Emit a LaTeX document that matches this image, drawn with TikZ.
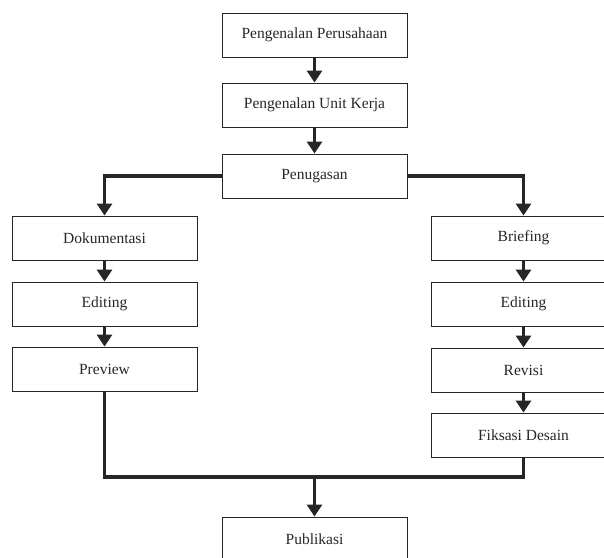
\documentclass[tikz,border=0pt]{standalone}
\usepackage{fontspec}
\setmainfont{Liberation Serif}
\usetikzlibrary{arrows.meta}
\begin{document}
\begin{tikzpicture}[x=1pt,y=-1pt,
  box/.style={draw=black!85, line width=0.9pt, minimum width=185pt, minimum height=44pt, inner sep=0pt, font=\fontsize{15.5}{18}\selectfont, text=black!85},
  flow/.style={line width=3.5pt, draw=black!85, -{Triangle[width=15pt,length=12pt]}},
  mergeline/.style={line width=3.5pt, draw=black!85}]
\useasboundingbox (0,0) rectangle (604,557);
\clip (0,0) rectangle (604,557);
\node[box] (pp) at (314.5,35) {Pengenalan Perusahaan};
\node[box] (puk) at (314.5,105) {Pengenalan Unit Kerja};
\node[box] (pen) at (314.5,176) {Penugasan};
\node[box] (dok) at (104.5,238) {Dokumentasi};
\node[box] (edl) at (104.5,304) {Editing};
\node[box] (pre) at (104.5,369) {Preview};
\node[box] (bri) at (523.5,238) {Briefing};
\node[box] (edr) at (523.5,304) {Editing};
\node[box] (rev) at (523.5,370) {Revisi};
\node[box] (fik) at (523.5,435) {Fiksasi Desain};
\node[box] (pub) at (314.5,539) {Publikasi};
\coordinate (m) at (314.5,477);
\draw[flow] (pp) -- (puk);
\draw[flow] (puk) -- (pen);
\draw[flow] (pen.west) -| (dok.north);
\draw[flow] (pen.east) -| (bri.north);
\draw[flow] (dok) -- (edl);
\draw[flow] (edl) -- (pre);
\draw[flow] (bri) -- (edr);
\draw[flow] (edr) -- (rev);
\draw[flow] (rev) -- (fik);
\draw[mergeline] (pre.south) |- (m);
\draw[mergeline] (fik.south) |- (m);
\draw[flow] (m) -- (pub.north);
\end{tikzpicture}
\end{document}
